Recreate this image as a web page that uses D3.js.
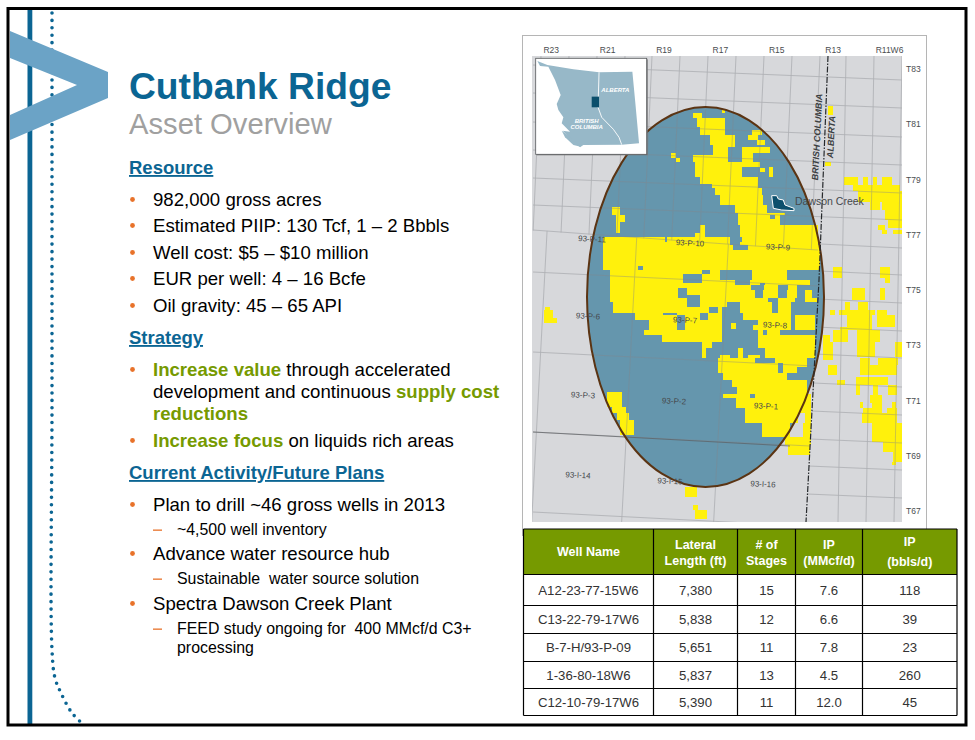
<!DOCTYPE html>
<html>
<head>
<meta charset="utf-8">
<script src="https://cdn.jsdelivr.net/npm/d3@7"></script>
<style>
  html, body { margin: 0; padding: 0; background: #fff; }
  svg { display: block; font-family: "Liberation Sans", Arial, sans-serif; }
  text { white-space: pre; }
</style>
</head>
<body>
<div id="slide"></div>
<script>
// ---- text of the left column
const titleText = "Cutbank Ridge";
const subtitleText = "Asset Overview";
const sections = ["Resource", "Strategy", "Current Activity/Future Plans"];
const resourceItems = ["982,000 gross acres", "Estimated PIIP: 130 Tcf, 1 – 2 Bbbls", "Well cost: $5 – $10 million", "EUR per well: 4 – 16 Bcfe", "Oil gravity: 45 – 65 API"];
const strategyLines = [
  [["Increase value", 1], [" through accelerated", 0]],
  [["development and continuous ", 0], ["supply cost", 1]],
  [["reductions", 1]],
  [["Increase focus", 1], [" on liquids rich areas", 0]]
];
const planItems = ["Plan to drill ~46 gross wells in 2013", "Advance water resource hub", "Spectra Dawson Creek Plant"];
const planSubItems = ["~4,500 well inventory", "Sustainable  water source solution", "FEED study ongoing for  400 MMcf/d C3+", "processing"];

// ---- well table
const tableHeaders = [["Well Name"], ["Lateral", "Length (ft)"], ["# of", "Stages"], ["IP", "(MMcf/d)"], ["IP", "(bbls/d)"]];
const wellNames = ["A12-23-77-15W6", "C13-22-79-17W6", "B-7-H/93-P-09", "1-36-80-18W6", "C12-10-79-17W6"];
const lateralLengths = ["7,380", "5,838", "5,651", "5,837", "5,390"];
const stageCounts = ["15", "12", "11", "13", "11"];
const ipGas = ["7.6", "6.6", "7.8", "4.5", "12.0"];
const ipOil = ["118", "39", "23", "260", "45"];

// ---- map labels
const rangeTicks = [23, 21, 19, 17, 15, 13, 11];
const townshipTicks = [83, 81, 79, 77, 75, 73, 71, 69, 67];
const sheetLabels = [
  ["93-P-11", 92, 189], ["93-P-10", 190, 193], ["93-P-9", 278, 197], ["93-P-6", 88, 266], ["93-P-7", 185, 270],
  ["93-P-8", 275, 275], ["93-P-3", 83, 345], ["93-P-2", 174, 351], ["93-P-1", 266, 356], ["93-I-14", 78, 425],
  ["93-I-15", 170, 431], ["93-I-16", 263, 434]
];

// map units: u runs 32..402 across the map, v runs 6..472 down it
// each row: v top, v bottom, then u start / u end pairs of leased land
const landRows = [
  [60, 63, 222, 225], [63, 68, 193, 202], [68, 77, 197, 225], [77, 80, 200, 225], [80, 85, 200, 225, 252, 262],
  [85, 90, 210, 235, 248, 258], [90, 95, 210, 235, 257, 265], [95, 97, 213, 235], [97, 103, 213, 228, 242, 270],
  [103, 105, 213, 228, 242, 253, 171, 176], [105, 108, 193, 228, 242, 253, 171, 176], [108, 112, 193, 228, 242, 253, 176, 180],
  [112, 117, 195, 260], [117, 118, 195, 242, 269, 273], [118, 122, 195, 242, 260, 265, 269, 273], [122, 127, 195, 242, 269, 273],
  [127, 134, 200, 258], [134, 138, 212, 258], [138, 145, 215, 262], [145, 155, 220, 263], [155, 157, 235, 267],
  [157, 163, 112, 120, 235, 267], [163, 165, 112, 120, 238, 285], [165, 169, 116, 125, 238, 270, 275, 280],
  [169, 172, 116, 125, 238, 280], [172, 175, 116, 120, 238, 280], [175, 183, 116, 120, 200, 205, 240, 318],
  [183, 187, 195, 205, 240, 318], [187, 192, 103, 165, 167, 230, 242, 318], [192, 195, 103, 230, 240, 318],
  [195, 200, 103, 233, 248, 320], [200, 216, 103, 320], [216, 220, 103, 138, 143, 320],
  [220, 224, 110, 202, 210, 220, 252, 287], [224, 230, 110, 183, 202, 220, 252, 287], [230, 233, 110, 183, 202, 235, 250, 310],
  [233, 235, 110, 235, 250, 260, 265, 310], [235, 238, 110, 251, 264, 278, 288, 297], [238, 240, 110, 178, 187, 251, 264, 278, 288, 297],
  [240, 245, 110, 178, 187, 255, 263, 278, 287, 297, 305, 312], [245, 248, 110, 178, 200, 255, 263, 278, 287, 297, 305, 312],
  [248, 252, 110, 187, 200, 268, 278, 295, 305, 317], [252, 257, 113, 187, 200, 227, 240, 272, 278, 291],
  [257, 260, 45, 50, 113, 209, 218, 222, 240, 272, 278, 291], [260, 263, 44, 53, 113, 209, 218, 222, 240, 272, 278, 291],
  [263, 265, 44, 53, 135, 163, 177, 200, 208, 222, 243, 291], [265, 268, 44, 53, 135, 177, 185, 200, 208, 222, 243, 291, 295, 315],
  [268, 270, 44, 57, 135, 177, 185, 200, 208, 222, 243, 291, 295, 315], [270, 273, 44, 57, 149, 177, 185, 222, 258, 291, 295, 315],
  [273, 275, 149, 177, 185, 222, 231, 236, 258, 291, 295, 315], [275, 279, 149, 177, 185, 222, 231, 236, 253, 291, 295, 315],
  [279, 280, 149, 177, 185, 222, 253, 291, 295, 315], [280, 285, 144, 222, 258, 263, 267, 280], [285, 288, 162, 222, 258, 315, 323, 330],
  [288, 292, 162, 222, 258, 315, 323, 330], [292, 298, 202, 212, 258, 315, 323, 333], [298, 305, 202, 206, 238, 243, 265, 315, 323, 333],
  [305, 308, 202, 206, 220, 230, 238, 243, 248, 260, 265, 315, 323, 333], [308, 310, 218, 255, 275, 307, 323, 333], [310, 313, 218, 255, 275, 307],
  [313, 317, 218, 278, 283, 307], [317, 323, 218, 278, 283, 297], [323, 330, 223, 287], [330, 337, 232, 307],
  [337, 344, 237, 307], [344, 348, 223, 250, 255, 311], [348, 358, 236, 311], [358, 363, 245, 311], [363, 373, 245, 298, 305, 311],
  [373, 387, 262, 290, 303, 311], [387, 395, 285, 311], [395, 405, 288, 310],
  // south-west corner and the bits past the ellipse
  [342, 357, 107, 122], [357, 363, 112, 126], [363, 370, 117, 129],
  [370, 385, 120, 134], [437, 447, 185, 197], [455, 460, 193, 198], [460, 469, 195, 207],
  // Alberta side
  [56, 65, 328, 333], [112, 116, 325, 331], [127, 135, 344, 358, 363, 368, 373, 377, 382, 392], [135, 141, 353, 400],
  [141, 152, 358, 402], [152, 160, 370, 380, 382, 402], [160, 170, 385, 402], [170, 178, 388, 402], [175, 180, 378, 385],
  [180, 184, 382, 387, 393, 402], [217, 228, 333, 342, 380, 390], [228, 233, 385, 390], [238, 250, 352, 365, 380, 385],
  [252, 263, 345, 350, 358, 368], [260, 265, 330, 335, 339, 375, 377, 387], [265, 277, 347, 372, 377, 387, 387, 395],
  [277, 280, 340, 372], [280, 292, 333, 348, 357, 380], [292, 307, 357, 375, 395, 403], [308, 315, 360, 370, 378, 398],
  [315, 325, 328, 337, 360, 397], [327, 335, 356, 388], [330, 335, 337, 345], [335, 345, 356, 360, 373, 378, 388, 397],
  [345, 353, 370, 382], [352, 358, 360, 363, 372, 382, 392, 396], [358, 363, 363, 368, 368, 382, 387, 397],
  [363, 373, 362, 397], [373, 392, 372, 402], [392, 402, 383, 402], [402, 412, 393, 402], [412, 415, 392, 396]
];

const dawsonOutline = [[95, 497], [110, 497], [115, 507], [130, 510], [135, 525], [162, 535], [162, 542], [125, 540], [100, 535]];
const insetProvinces = [[52, 93], [82, 105], [160, 118], [237, 127], [337, 125], [346, 220], [357, 340], [305, 344], [190, 345], [180, 352],
  [150, 325], [128, 302], [150, 305], [125, 280], [130, 262], [115, 240], [110, 222], [122, 195], [105, 150], [85, 110], [60, 108]];
const insetBorder = [[237, 127], [234, 232], [245, 262], [280, 298], [297, 322], [305, 344]];
const insetIsland = [[125, 302], [150, 320], [182, 350], [160, 345], [135, 322]];

// right-edge heights of the township lines, top of the sheet lines
const townshipLineY = [30, 58, 87, 115, 143, 170, 198, 225, 253, 281, 308, 337, 365, 393, 420, 448];
const blockLineX = [41, 69, 97, 125, 152, 180, 208, 236, 264, 292, 320];
const albertaLineX = [346, 374, 402];
const sheetLineX = [45, 135, 227];
const sheetLineY = [222, 302, 382, 462];

// ---- page
const svg = d3.select("#slide").append("svg").attr("width", 975).attr("height", 740);
const blue = "#0b6593", olive = "#769a00", orange = "#e8722a";

// dotted rule, solid rule, chevron
const dotted = d3.line().curve(d3.curveCatmullRom);
svg.append("path").attr("d", dotted([[52, 13], [52, 400], [52, 650], [55, 678], [61, 693], [72, 713], [84, 725]]))
  .attr("fill", "none").attr("stroke", blue).attr("stroke-width", 3.6)
  .attr("stroke-linecap", "round").attr("stroke-dasharray", "0 7.45");
svg.append("rect").attr("x", 27.5).attr("y", 9).attr("width", 4.8).attr("height", 716).attr("fill", blue);
svg.append("path").attr("d", "M10,31L108,72V98L10,140V115L77,85L10,58Z").attr("fill", "#6ba3c6");
svg.append("rect").attr("x", 8).attr("y", 8.5).attr("width", 958).attr("height", 716.5)
  .attr("fill", "none").attr("stroke", "#000").attr("stroke-width", 3);

// left column
const textX = 129, itemX = 153, subX = 177;
svg.append("text").attr("x", textX).attr("y", 98.5).text(titleText)
  .attr("font-size", 37.2).attr("font-weight", "bold").attr("fill", blue);
svg.append("text").attr("x", textX).attr("y", 134).text(subtitleText)
  .attr("font-size", 29.2).attr("fill", "#a0a0a0");

function heading(label, y) {
  svg.append("text").attr("x", textX).attr("y", y).text(label)
    .attr("font-size", 18.5).attr("font-weight", "bold").attr("fill", blue).attr("text-decoration", "underline");
}
function bullet(y) {
  svg.append("circle").attr("cx", 132.5).attr("cy", y - 6.5).attr("r", 2.4).attr("fill", orange);
}
function item(label, y) {
  bullet(y);
  svg.append("text").attr("x", itemX).attr("y", y).text(label).attr("font-size", 18.6).attr("fill", "#000");
}
function subItem(label, y, dash) {
  if (dash) svg.append("rect").attr("x", 153).attr("y", y - 5.5).attr("width", 9).attr("height", 1.3).attr("fill", orange);
  svg.append("text").attr("x", subX).attr("y", y).text(label).attr("font-size", 15.9).attr("fill", "#000");
}

heading(sections[0], 174);
[206, 232, 259, 285, 312].forEach((y, i) => item(resourceItems[i], y));
heading(sections[1], 344);
[376, 398, 420, 447].forEach((y, i) => {
  if (i === 0 || i === 3) bullet(y);
  const t = svg.append("text").attr("x", itemX).attr("y", y).attr("font-size", 18.6);
  strategyLines[i].forEach(s => t.append("tspan").text(s[0])
    .attr("font-weight", s[1] ? "bold" : "normal").attr("fill", s[1] ? olive : "#000"));
});
heading(sections[2], 479);
item(planItems[0], 511);
subItem(planSubItems[0], 535, true);
item(planItems[1], 560);
subItem(planSubItems[1], 584, true);
item(planItems[2], 610);
subItem(planSubItems[2], 634, true);
subItem(planSubItems[3], 653, false);

// ---- map
svg.append("rect").attr("x", 522.5).attr("y", 35.5).attr("width", 404).attr("height", 500)
  .attr("fill", "#fff").attr("stroke", "#b5b5b5");

const mapU = d3.scaleLinear().domain([32, 402]).range([532, 902]);
const mapV = d3.scaleLinear().domain([6, 472]).range([56, 522]);
svg.append("clipPath").attr("id", "mapclip").append("rect")
  .attr("x", mapU(32)).attr("y", mapV(6)).attr("width", mapU(402) - mapU(32)).attr("height", mapV(472) - mapV(6));
const map = svg.append("g").attr("clip-path", "url(#mapclip)");
map.append("rect").attr("x", mapU(32)).attr("y", mapV(6)).attr("width", mapU(402) - mapU(32)).attr("height", mapV(472) - mapV(6))
  .attr("fill", "#d7d8db");

const ellipse = { u: 205.5, v: 247, ru: 118.5, rv: 190 };
map.append("ellipse").attr("cx", mapU(ellipse.u)).attr("cy", mapV(ellipse.v)).attr("rx", ellipse.ru).attr("ry", ellipse.rv)
  .attr("fill", "#6596ad");

// leased land, one rect per run
const runs = [];
landRows.forEach(r => {
  for (let i = 2; i < r.length; i += 2) runs.push({ v0: r[0], v1: r[1], u0: r[i], u1: r[i + 1] });
});
map.append("g").attr("shape-rendering", "crispEdges").selectAll("rect").data(runs).enter().append("rect")
  .attr("x", d => mapU(d.u0)).attr("y", d => mapV(d.v0))
  .attr("width", d => mapU(d.u1) - mapU(d.u0)).attr("height", d => mapV(d.v1) - mapV(d.v0))
  .attr("fill", "#fff10c");

// grid
const grid = map.append("g").attr("fill", "none").attr("stroke", "#84878b").attr("stroke-width", 0.8).attr("opacity", 0.5);
function gridLine(a, b) {
  grid.append("line").attr("x1", mapU(a[0])).attr("y1", mapV(a[1])).attr("x2", mapU(b[0])).attr("y2", mapV(b[1]));
}
// the division between the township block and the map sheets
const borderV = u => 180 + 0.07 * (u - 33);
const dashU = v => v < 230 ? 328 - 0.0385 * (v - 6) : 319 - 0.054 * (v - 230);
townshipLineY.forEach(y => {
  if (y < 190) gridLine([33, y - 15], [402, y]);
  else gridLine([dashU(y), y - 4], [402, y]);
});
blockLineX.forEach(x => {
  const bottom = borderV(x);
  gridLine([x, 6], [x - 0.045 * (bottom - 6), bottom]);
});
albertaLineX.forEach(x => gridLine([x, 6], [x - 8, 472]));
sheetLineX.forEach(x => {
  const top = borderV(x);
  gridLine([x + 0.053 * (220 - top), top], [x - 0.053 * (472 - 220), 472]);
});
sheetLineY.forEach(y => gridLine([33, y - 0], [dashU(y + 14), y + 14]));
gridLine([33, 180], [240, 195]);
gridLine([240, 195], [318, 200]);
map.append("line").attr("x1", mapU(33)).attr("y1", mapV(382)).attr("x2", mapU(290)).attr("y2", mapV(396))
  .attr("stroke", "#5d6063").attr("stroke-width", 0.9).attr("opacity", 0.8);

map.append("ellipse").attr("cx", mapU(ellipse.u)).attr("cy", mapV(ellipse.v)).attr("rx", ellipse.ru).attr("ry", ellipse.rv)
  .attr("fill", "none").attr("stroke", "#5b3413").attr("stroke-width", 2);

// provincial border
map.append("path").attr("d", d3.line()([[mapU(328), mapV(6)], [mapU(319), mapV(230)], [mapU(306), mapV(472)]]))
  .attr("fill", "none").attr("stroke", "#26292c").attr("stroke-width", 1.2).attr("stroke-dasharray", "6 1.5 1.5 1.5");

map.selectAll("text.sheet").data(sheetLabels).enter().append("text").attr("class", "sheet")
  .attr("transform", d => `translate(${mapU(d[1])},${mapV(d[2])}) rotate(3)`)
  .attr("text-anchor", "middle").attr("dy", "0.35em").attr("font-size", 8).attr("fill", "#45484b")
  .text(d => d[0]);

function rotatedLabel(label, u, v) {
  map.append("text").attr("transform", `translate(${mapU(u)},${mapV(v)}) rotate(-87)`)
    .attr("text-anchor", "middle").attr("font-size", 9).attr("font-weight", "bold").attr("font-style", "italic")
    .attr("fill", "#3c3f42").attr("dy", "0.35em").text(label);
}
rotatedLabel("BRITISH COLUMBIA", 317, 87);
rotatedLabel("ALBERTA", 331, 87);

// Dawson Creek
const dawsonU = d3.scaleLinear().domain([0, 3]).range([240, 241]);
const dawsonV = d3.scaleLinear().domain([0, 3]).range([-20, -19]);
map.append("path").attr("d", d3.line()(dawsonOutline.map(p => [mapU(dawsonU(p[0])), mapV(dawsonV(p[1]))])) + "Z")
  .attr("fill", "#0b4f6c").attr("stroke", "#fff").attr("stroke-width", 1);
map.append("text").attr("x", mapU(295)).attr("y", mapV(151)).attr("dy", "0.35em")
  .attr("font-size", 10.5).attr("fill", "#45484b").text("Dawson Creek");

// range and township axes
const rangeX = d3.scaleLinear().domain([23, 11]).range([550.7, 889]);
const townshipY = d3.scaleLinear().domain([83, 67]).range([69, 511]);
const rangeAxis = d3.axisTop(rangeX).tickValues(rangeTicks).tickSize(0).tickPadding(0)
  .tickFormat(d => d === 11 ? "R11W6" : "R" + d);
const townshipAxis = d3.axisRight(townshipY).tickValues(townshipTicks).tickSize(0).tickPadding(0)
  .tickFormat(d => "T" + d);
svg.append("g").attr("transform", "translate(0,53)").call(rangeAxis)
  .call(g => g.select(".domain").remove())
  .call(g => g.selectAll("text").attr("font-size", 8.5).attr("font-family", "Liberation Sans").attr("fill", "#4a4d50"));
svg.append("g").attr("transform", "translate(906,0)").call(townshipAxis)
  .call(g => g.select(".domain").remove())
  .call(g => g.selectAll("text").attr("font-size", 8.5).attr("font-family", "Liberation Sans").attr("fill", "#4a4d50"));

// locator inset, its units are those of a 333 x 288 box
const insetX = d3.scaleLinear().domain([47, 380]).range([535.7, 646.7]);
const insetY = d3.scaleLinear().domain([85, 373]).range([58.3, 154.3]);
const insetLine = d3.line().x(p => insetX(p[0])).y(p => insetY(p[1]));
svg.append("rect").attr("x", insetX(47) + 1).attr("y", insetY(85) + 1).attr("width", 111).attr("height", 96).attr("fill", "#777");
svg.append("rect").attr("x", insetX(47)).attr("y", insetY(85)).attr("width", 111).attr("height", 96)
  .attr("fill", "#fff").attr("stroke", "#55585b").attr("stroke-width", 0.8);
svg.append("path").attr("d", insetLine(insetProvinces) + "Z").attr("fill", "#97b8c8");
svg.append("path").attr("d", insetLine(insetIsland) + "Z").attr("fill", "#97b8c8");
svg.append("path").attr("d", insetLine(insetBorder)).attr("fill", "none").attr("stroke", "#fff").attr("stroke-width", 0.9);
svg.append("rect").attr("x", insetX(215)).attr("y", insetY(200)).attr("width", insetX(237) - insetX(215)).attr("height", insetY(232) - insetY(200))
  .attr("fill", "#0b4f6c");
function insetLabel(label, u, v) {
  svg.append("text").attr("x", insetX(u)).attr("y", insetY(v)).attr("dy", "0.35em").attr("text-anchor", "middle")
    .attr("font-size", 6).attr("font-weight", "bold").attr("font-style", "italic").attr("fill", "#fff").text(label);
}
insetLabel("ALBERTA", 286, 180);
insetLabel("BRITISH", 200, 272);
insetLabel("COLUMBIA", 200, 291);

// ---- table
const colEdges = [523.5, 653.5, 737.5, 795.5, 862.5, 957];
const rowEdges = [529, 574.5, 605.5, 633.5, 661.5, 688.5, 715.5];
const tableRows = wellNames.map((w, i) => [w, lateralLengths[i], stageCounts[i], ipGas[i], ipOil[i]]);
const tableG = svg.append("g");
tableG.append("rect").attr("x", colEdges[0]).attr("y", rowEdges[0]).attr("width", colEdges[5] - colEdges[0]).attr("height", rowEdges[1] - rowEdges[0]).attr("fill", "#769a00");
tableG.append("rect").attr("x", colEdges[0]).attr("y", rowEdges[1]).attr("width", colEdges[5] - colEdges[0]).attr("height", rowEdges[6] - rowEdges[1]).attr("fill", "#fff");
colEdges.forEach(x => tableG.append("line").attr("x1", x).attr("x2", x).attr("y1", rowEdges[0]).attr("y2", rowEdges[6]).attr("stroke", "#000").attr("stroke-width", 1.2));
rowEdges.forEach(y => tableG.append("line").attr("x1", colEdges[0]).attr("x2", colEdges[5]).attr("y1", y).attr("y2", y).attr("stroke", "#000").attr("stroke-width", 1.2));
tableHeaders.forEach((lines, c) => {
  const cx = (colEdges[c] + colEdges[c + 1]) / 2;
  const ys = lines.length === 1 ? [552] : c === 4 ? [542, 562] : [544.5, 561];
  lines.forEach((line, i) => tableG.append("text").attr("x", cx).attr("y", ys[i]).attr("dy", "0.35em").attr("text-anchor", "middle")
    .attr("font-size", 12.5).attr("font-weight", "bold").attr("fill", "#fff").text(line));
});
tableRows.forEach((row, r) => row.forEach((cell, c) => {
  tableG.append("text").attr("x", (colEdges[c] + colEdges[c + 1]) / 2).attr("y", (rowEdges[r + 1] + rowEdges[r + 2]) / 2)
    .attr("dy", "0.35em").attr("text-anchor", "middle").attr("font-size", 13.2).attr("fill", "#333").text(cell);
}));
</script>
</body>
</html>
